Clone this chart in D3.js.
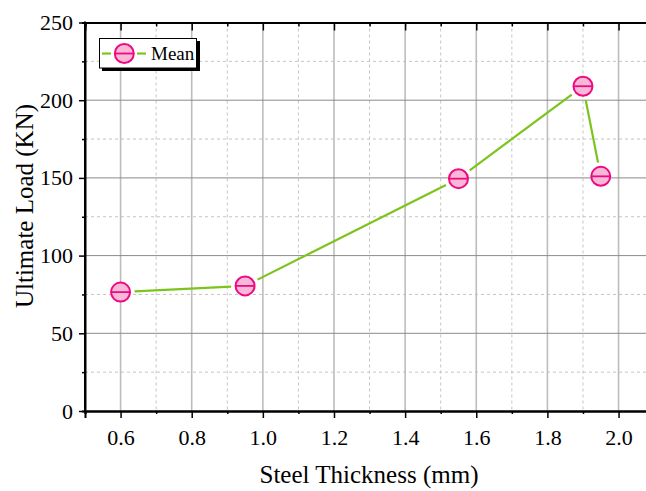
<!DOCTYPE html>
<html>
<head>
<meta charset="utf-8">
<script src="https://cdn.jsdelivr.net/npm/d3@7"></script>
<style>
  body { margin: 0; background: #fff; }
  text { font-family: "Liberation Serif", "Times New Roman", serif; }
</style>
</head>
<body>
<script>
// steel thickness (mm) vs mean ultimate load (KN)
const thickness = [0.6, 0.95, 1.55, 1.9, 1.95];
const meanLoad = [76.5, 80.5, 149.5, 209, 151];
const xTicks = [0.6, 0.8, 1.0, 1.2, 1.4, 1.6, 1.8, 2.0];
const yTicks = [0, 50, 100, 150, 200, 250];

const width = 646, height = 491;
const plotLeft = 85, plotTop = 22.5, plotBottom = 411;
const serif = '"Liberation Serif", "Times New Roman", serif';

const svg = d3.select('body').append('svg')
  .attr('width', width).attr('height', height)
  .attr('font-family', serif);

const x = d3.scaleLinear().domain([0.5, 2.1]).range([plotLeft, plotLeft + 1.6 * 355.7]);
const y = d3.scaleLinear().domain([0, 250]).range([plotBottom, plotTop]);

const xRight = x(2.1);
const minorX = d3.range(0.5, 2.11, 0.1).map(d => +d.toFixed(2)).filter(d => !xTicks.includes(d));
const minorY = d3.range(25, 250, 50);

// grid
const grid = svg.append('g');
grid.selectAll('.mx').data(minorX).enter().append('line')
  .attr('x1', d => x(d)).attr('x2', d => x(d)).attr('y1', plotTop).attr('y2', plotBottom)
  .attr('stroke', '#c4c4c4').attr('stroke-dasharray', '3,3');
grid.selectAll('.my').data(minorY).enter().append('line')
  .attr('x1', plotLeft).attr('x2', xRight).attr('y1', d => y(d)).attr('y2', d => y(d))
  .attr('stroke', '#c4c4c4').attr('stroke-dasharray', '3,3');
grid.selectAll('.gx').data(xTicks).enter().append('line')
  .attr('x1', d => x(d)).attr('x2', d => x(d)).attr('y1', plotTop).attr('y2', plotBottom)
  .attr('stroke', '#bdbdbd').attr('stroke-width', 1.6);
grid.selectAll('.gy').data(yTicks.slice(1, -1)).enter().append('line')
  .attr('x1', plotLeft).attr('x2', xRight).attr('y1', d => y(d)).attr('y2', d => y(d))
  .attr('stroke', '#8a8a8a').attr('stroke-width', 1);

// axes
const axisFont = 22;
const gx = svg.append('g').attr('transform', `translate(0,${plotBottom})`)
  .call(d3.axisBottom(x).tickValues(xTicks).tickFormat(d3.format('.1f')).tickSize(7).tickPadding(11));
const gxMinor = svg.append('g').attr('transform', `translate(0,${plotBottom})`)
  .call(d3.axisBottom(x).tickValues(minorX).tickFormat('').tickSize(3));
const gTop = svg.append('g').attr('transform', `translate(0,${plotTop})`)
  .call(d3.axisTop(x).tickValues(xTicks).tickFormat('').tickSize(-8));
const gTopMinor = svg.append('g').attr('transform', `translate(0,${plotTop})`)
  .call(d3.axisTop(x).tickValues(minorX).tickFormat('').tickSize(-4));
const gy = svg.append('g').attr('transform', `translate(${plotLeft},0)`)
  .call(d3.axisLeft(y).tickValues(yTicks).tickSize(6).tickPadding(6));
const gyMinor = svg.append('g').attr('transform', `translate(${plotLeft},0)`)
  .call(d3.axisLeft(y).tickValues(minorY).tickFormat('').tickSize(3));

[gx, gxMinor, gTop, gTopMinor, gy, gyMinor].forEach(g => {
  g.attr('font-family', serif).attr('font-size', axisFont);
  g.select('.domain').attr('stroke', '#000').attr('stroke-width', 2);
  g.selectAll('.tick line').attr('stroke', '#000').attr('stroke-width', 1.5);
  g.selectAll('text').attr('fill', '#000');
});
gy.select('.domain').attr('d', `M0,${plotBottom + 1}V${plotTop - 1}`);

// axis titles
svg.append('text').attr('x', 369).attr('y', 483).attr('text-anchor', 'middle')
  .attr('font-size', 25).text('Steel Thickness (mm)');
svg.append('text').attr('transform', 'translate(33,206) rotate(-90)')
  .attr('text-anchor', 'middle').attr('font-size', 25).text('Ultimate Load (KN)');

// line with gaps around markers
const pts = thickness.map((t, i) => [x(t), y(meanLoad[i])]);
const gap = 14;
const segs = d3.pairs(pts).map(([a, b]) => {
  const dx = b[0] - a[0], dy = b[1] - a[1], len = Math.hypot(dx, dy);
  const ux = dx / len, uy = dy / len;
  return [a[0] + ux * gap, a[1] + uy * gap, b[0] - ux * gap, b[1] - uy * gap];
});
svg.append('g').selectAll('line').data(segs).enter().append('line')
  .attr('x1', d => d[0]).attr('y1', d => d[1]).attr('x2', d => d[2]).attr('y2', d => d[3])
  .attr('stroke', '#7cc41c').attr('stroke-width', 2.2);

const lineColor = '#7cc41c', mStroke = '#ee0a80', mFill = '#f9b8d8', r = 9.5;
function marker(g, cx, cy) {
  g.append('circle').attr('cx', cx).attr('cy', cy).attr('r', r)
    .attr('fill', mFill).attr('stroke', mStroke).attr('stroke-width', 2);
  g.append('line').attr('x1', cx - r).attr('x2', cx + r).attr('y1', cy).attr('y2', cy)
    .attr('stroke', mStroke).attr('stroke-width', 1.8);
}
const mg = svg.append('g');
pts.forEach(p => marker(mg, p[0], p[1]));

// legend
const lg = svg.append('g');
lg.append('rect').attr('x', 102).attr('y', 41).attr('width', 98).attr('height', 30).attr('fill', '#000');
lg.append('rect').attr('x', 99.5).attr('y', 38.5).attr('width', 97).attr('height', 29.5)
  .attr('fill', '#fff').attr('stroke', '#000').attr('stroke-width', 1);
lg.append('line').attr('x1', 102).attr('x2', 111).attr('y1', 53.5).attr('y2', 53.5)
  .attr('stroke', lineColor).attr('stroke-width', 2.2);
lg.append('line').attr('x1', 137).attr('x2', 146).attr('y1', 53.5).attr('y2', 53.5)
  .attr('stroke', lineColor).attr('stroke-width', 2.2);
marker(lg, 124.3, 53.5);
lg.append('text').attr('x', 151).attr('y', 60).attr('font-size', 19).text('Mean');
</script>
</body>
</html>
